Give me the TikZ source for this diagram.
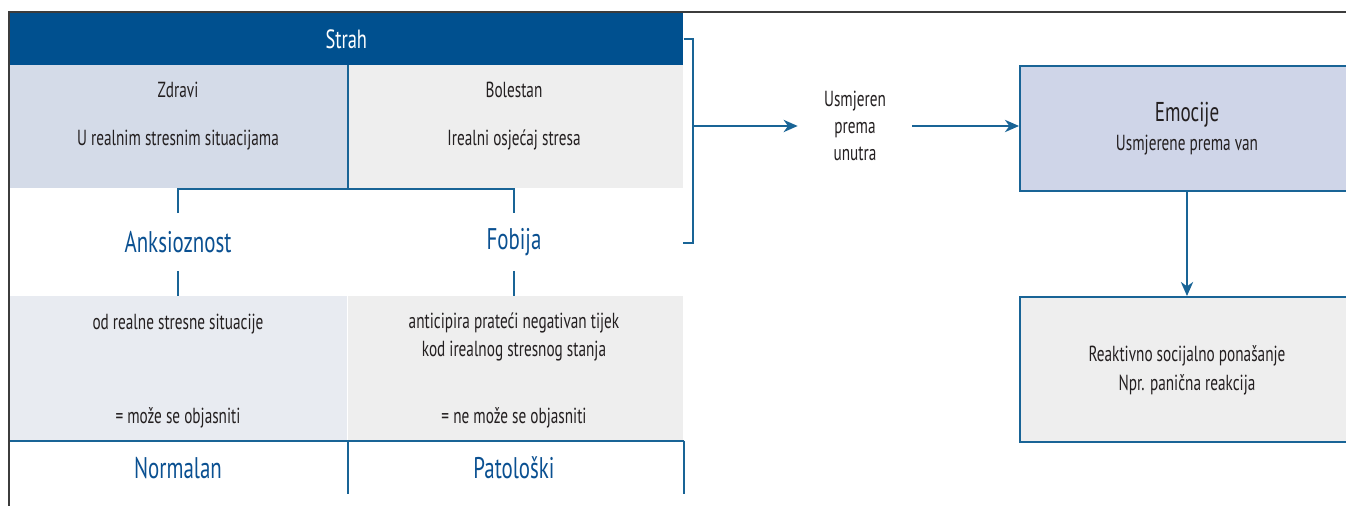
\documentclass[tikz,border=0pt]{standalone}
\usepackage{fontspec}
\setmainfont[FakeStretch=0.7]{PT Sans}
\usetikzlibrary{arrows.meta, positioning}
\definecolor{strahblue}{RGB}{0,80,143}
\definecolor{lineblue}{RGB}{25,100,150}
\definecolor{textblue}{RGB}{10,80,145}
\definecolor{textgray}{RGB}{35,31,32}
\definecolor{zdravifill}{RGB}{212,219,232}
\definecolor{ankfill}{RGB}{232,235,241}
\definecolor{grayfill}{RGB}{238,238,238}
\definecolor{emofill}{RGB}{207,213,232}
\definecolor{framegray}{RGB}{60,60,60}
\tikzset{
  cell/.style = {inner sep = 0pt, anchor = north west, minimum height = 2.46cm},
  txt/.style = {text = textgray, align = center, font = \fontsize{12.4}{15.5}\selectfont},
  lbl/.style = {text = textblue, font = \fontsize{17}{19}\selectfont},
  conn/.style = {draw = lineblue, line width = 1pt},
  arr/.style = {conn, -{Stealth[length = 8pt, width = 7pt, inset = 2.5pt]}}
}
\begin{document}
\begin{tikzpicture} [x = 0.02cm, y = -0.02cm]
\useasboundingbox (0,0) rectangle (1346,506);
\node (strah) [cell, fill = strahblue, minimum width = 13.48cm, minimum height = 1.06cm] at (9,12) {};
\node [text = white, font = \fontsize{15}{17}\selectfont] at (strah.center) {Strah};
\node (zdravi) [cell, fill = zdravifill, minimum width = 6.76cm] at (9,65) {};
\node (bolestan) [cell, fill = grayfill, minimum width = 6.72cm] at (347,65) {};
\node (ankcell) [cell, fill = ankfill, minimum width = 6.76cm, minimum height = 2.88cm] at (9,296) {};
\node (fobcell) [cell, fill = grayfill, minimum width = 6.70cm, minimum height = 2.88cm] at (348,296) {};
\node (emo) [cell, draw = lineblue, line width = 1pt, fill = emofill, minimum width = 6.8cm, minimum height = 2.5cm] at (1019,65) {};
\node (reak) [cell, draw = lineblue, line width = 1pt, fill = grayfill, minimum width = 6.8cm, minimum height = 2.9cm] at (1019,296) {};

\node (zt) [txt] at (178,90) {Zdravi};
\node (zs) [txt] at (178,140) {U realnim stresnim situacijama};
\node (bt) [txt] at (514,90) {Bolestan};
\node (bs) [txt] at (514,140) {Irealni osjećaj stresa};
\node (anks) [lbl, minimum height = 1.14cm] at (178,242) {Anksioznost};
\node (fob) [lbl, minimum height = 1.14cm] at (514,242) {Fobija};
\node (odreal) [txt] at (178,324) {od realne stresne situacije};
\node (mozel) [txt] at (178,418) {= može se objasniti};
\node (antic) [txt] at (514,337) {anticipira prateći negativan tijek\\kod irealnog stresnog stanja};
\node (mozer) [txt] at (514,418) {= ne može se objasniti};
\node (normalan) [lbl] at (178,468) {Normalan};
\node (patol) [lbl] at (514,468) {Patološki};
\node (usmj) [txt, minimum width = 2.28cm] at (855,126) {Usmjeren\\prema\\unutra};
\node (emot) [text = textgray, font = \fontsize{15.5}{17}\selectfont] at (1187,115) {Emocije};
\node (emos) [txt] at (1187,145) {Usmjerene prema van};
\node (reakt) [txt, font = \fontsize{12.4}{16.5}\selectfont] at (1187,370) {Reaktivno socijalno ponašanje\\Npr. panična reakcija};

\coordinate (bkt) at (693,126);
\coordinate (bktend) at (683,243);
\draw [conn] (zdravi.north east) -- (zdravi.south east);
\draw [conn] (anks.north) |- (zdravi.south east) -| (fob.north);
\draw [conn] (anks.south) -- (anks.south |- ankcell.north);
\draw [conn] (fob.south) -- (fob.south |- fobcell.north);
\draw [conn] (ankcell.south west) -- (fobcell.south east);
\draw [conn] (ankcell.south east) -- ++(0,53);
\draw [conn] (fobcell.south east) -- ++(0,53);
\draw [conn] (strah.east) -- (strah.east -| bkt) |- (bktend);
\draw [arr] (bkt) -- (usmj.west);
\draw [arr] (usmj.east) -- (usmj.east -| emo.west);
\draw [arr] (emo.south -| emot) -- (reak.north -| emot);
\draw [framegray, line width = 0.9pt] (1346,12) -- (9,12) -- (9,506);
\end{tikzpicture}
\end{document}
